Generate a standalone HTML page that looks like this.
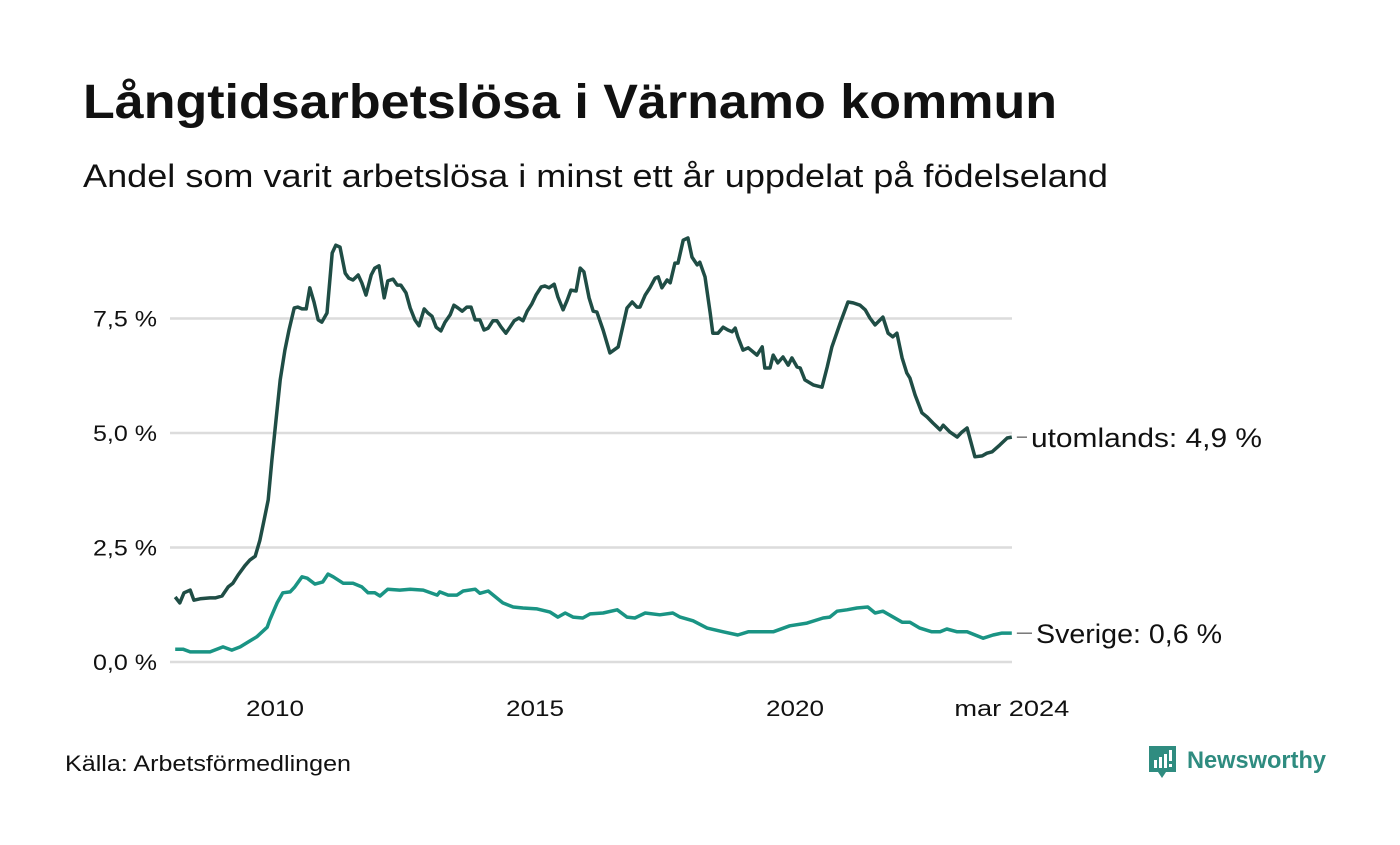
<!DOCTYPE html>
<html><head><meta charset="utf-8"><style>
body{margin:0;width:1400px;height:840px;background:#fff;overflow:hidden;font-family:"Liberation Sans","DejaVu Sans",sans-serif;}
</style></head><body>
<svg width="1400" height="840" xmlns="http://www.w3.org/2000/svg" id="c">
<text x="83" y="118" font-size="48" font-weight="bold" fill="#111" textLength="974" lengthAdjust="spacingAndGlyphs">Långtidsarbetslösa i Värnamo kommun</text>
<text x="83" y="187" font-size="32" fill="#111" textLength="1025" lengthAdjust="spacingAndGlyphs">Andel som varit arbetslösa i minst ett år uppdelat på födelseland</text>
<g id="grid"></g><g id="lines"></g>
<text x="65" y="771" font-size="22" fill="#111" textLength="286" lengthAdjust="spacingAndGlyphs">Källa: Arbetsförmedlingen</text>
<g>
<path d="M1149 746h27v26h-10l-4 6-4-6h-9z" fill="#2f8c80"/>
<rect x="1154" y="760" width="3" height="8" fill="#fff"/><rect x="1159" y="757" width="3" height="11" fill="#fff"/><rect x="1164" y="754" width="3" height="14" fill="#fff"/><rect x="1169" y="750" width="3" height="11" fill="#fff"/><rect x="1169" y="764" width="3" height="3" fill="#fff"/>
<text x="1187" y="768" font-size="24" font-weight="bold" fill="#2f8c80" textLength="139" lengthAdjust="spacingAndGlyphs">Newsworthy</text></g>
</svg>
<script>
const yTicks=[0,2.5,5,7.5];
const yTickLabels=["0,0 %","2,5 %","5,0 %","7,5 %"];
const xTicks=[2010,2015,2020,2024.17];
const xTickLabels=["2010","2015","2020","mar 2024"];
const utYears=[2008.08,2008.17,2008.25,2008.37,2008.44,2008.56,2008.75,2008.85,2008.98,2009.10,2009.19,2009.29,2009.42,2009.52,2009.62,2009.71,2009.79,2009.87,2009.94,2010.02,2010.10,2010.19,2010.27,2010.37,2010.44,2010.52,2010.60,2010.67,2010.75,2010.83,2010.90,2011.00,2011.10,2011.17,2011.25,2011.35,2011.42,2011.50,2011.60,2011.67,2011.75,2011.85,2011.92,2012.00,2012.10,2012.17,2012.27,2012.35,2012.42,2012.52,2012.60,2012.69,2012.77,2012.87,2012.94,2013.02,2013.10,2013.19,2013.27,2013.37,2013.44,2013.52,2013.60,2013.69,2013.77,2013.85,2013.94,2014.02,2014.10,2014.19,2014.27,2014.35,2014.44,2014.52,2014.60,2014.69,2014.77,2014.85,2014.94,2015.02,2015.12,2015.19,2015.27,2015.37,2015.44,2015.54,2015.62,2015.69,2015.79,2015.87,2015.94,2016.04,2016.12,2016.19,2016.31,2016.44,2016.60,2016.77,2016.87,2016.96,2017.02,2017.12,2017.21,2017.31,2017.37,2017.44,2017.54,2017.60,2017.69,2017.75,2017.85,2017.94,2018.02,2018.12,2018.17,2018.27,2018.37,2018.42,2018.52,2018.62,2018.71,2018.79,2018.85,2018.90,2019.00,2019.10,2019.27,2019.37,2019.42,2019.52,2019.58,2019.67,2019.77,2019.87,2019.94,2020.04,2020.10,2020.19,2020.35,2020.52,2020.62,2020.71,2020.87,2021.02,2021.12,2021.25,2021.35,2021.44,2021.54,2021.69,2021.79,2021.88,2021.96,2022.06,2022.15,2022.21,2022.31,2022.44,2022.54,2022.65,2022.79,2022.85,2022.98,2023.12,2023.21,2023.31,2023.46,2023.60,2023.69,2023.79,2023.94,2024.08,2024.17];
const utValues=[1.42,1.29,1.51,1.57,1.35,1.38,1.40,1.40,1.44,1.64,1.72,1.90,2.10,2.23,2.31,2.66,3.10,3.54,4.41,5.28,6.16,6.81,7.25,7.73,7.75,7.71,7.71,8.17,7.86,7.47,7.42,7.62,8.93,9.10,9.06,8.49,8.38,8.34,8.45,8.28,8.01,8.45,8.60,8.65,7.95,8.32,8.36,8.23,8.23,8.06,7.73,7.47,7.34,7.71,7.62,7.55,7.31,7.23,7.42,7.58,7.79,7.73,7.66,7.75,7.75,7.47,7.47,7.25,7.29,7.45,7.45,7.31,7.18,7.31,7.45,7.51,7.45,7.66,7.82,8.01,8.19,8.21,8.17,8.25,7.97,7.69,7.90,8.12,8.10,8.60,8.52,7.95,7.66,7.64,7.25,6.75,6.88,7.73,7.86,7.75,7.75,8.01,8.17,8.38,8.41,8.17,8.34,8.28,8.71,8.71,9.21,9.26,8.84,8.67,8.73,8.41,7.62,7.18,7.18,7.31,7.25,7.21,7.29,7.10,6.81,6.86,6.70,6.88,6.42,6.42,6.70,6.53,6.66,6.48,6.64,6.44,6.42,6.16,6.05,6.00,6.44,6.88,7.40,7.86,7.84,7.79,7.69,7.51,7.36,7.53,7.18,7.10,7.18,6.64,6.31,6.20,5.83,5.44,5.35,5.22,5.07,5.17,5.02,4.91,5.02,5.11,4.48,4.50,4.56,4.59,4.74,4.89,4.91];
const svYears=[2008.08,2008.23,2008.37,2008.75,2009.00,2009.17,2009.33,2009.52,2009.65,2009.85,2009.90,2010.04,2010.15,2010.29,2010.38,2010.52,2010.62,2010.77,2010.92,2011.02,2011.12,2011.31,2011.50,2011.67,2011.79,2011.92,2012.02,2012.17,2012.40,2012.60,2012.85,2013.12,2013.17,2013.33,2013.50,2013.62,2013.85,2013.94,2014.10,2014.38,2014.58,2014.77,2015.04,2015.29,2015.44,2015.58,2015.73,2015.92,2016.06,2016.31,2016.58,2016.77,2016.92,2017.12,2017.40,2017.65,2017.79,2018.04,2018.31,2018.62,2018.90,2019.10,2019.58,2019.90,2020.23,2020.54,2020.67,2020.81,2021.00,2021.19,2021.40,2021.54,2021.69,2022.06,2022.21,2022.40,2022.63,2022.79,2022.92,2023.12,2023.31,2023.62,2023.81,2023.98,2024.17];
const svValues=[0.28,0.28,0.22,0.22,0.33,0.26,0.33,0.46,0.55,0.76,0.92,1.29,1.51,1.53,1.64,1.86,1.83,1.70,1.75,1.92,1.86,1.72,1.72,1.64,1.51,1.51,1.44,1.59,1.57,1.59,1.57,1.46,1.53,1.46,1.46,1.55,1.59,1.50,1.55,1.29,1.20,1.18,1.16,1.09,0.98,1.07,0.98,0.96,1.05,1.07,1.14,0.98,0.96,1.07,1.03,1.07,0.98,0.90,0.74,0.66,0.59,0.66,0.66,0.79,0.85,0.96,0.98,1.11,1.14,1.18,1.20,1.07,1.11,0.87,0.87,0.74,0.66,0.66,0.72,0.66,0.66,0.52,0.59,0.63,0.63];
const X=y=>275+(y-2010)*52;
const Y=v=>662-v*45.8;
const NS="http://www.w3.org/2000/svg";
const grid=document.getElementById('grid'),lines=document.getElementById('lines');
function mk(tag,attrs,parent){const e=document.createElementNS(NS,tag);for(const k in attrs)e.setAttribute(k,attrs[k]);parent.appendChild(e);return e;}
yTicks.forEach((t,i)=>{
 const l=mk('line',{x1:170,x2:1012,y1:Y(t),y2:Y(t),stroke:'#dcdcdc','stroke-width':2.5},grid);
 
 
 const tx=mk('text',{x:157,y:Y(t)+8,'text-anchor':'end','font-size':22,fill:'#111',textLength:64,lengthAdjust:'spacingAndGlyphs'},grid);
 tx.textContent=yTickLabels[i];
 
 
});
xTicks.forEach((t,i)=>{
 const lab=xTickLabels[i];
 const tx=mk('text',{x:X(t),y:716,'text-anchor':'middle','font-size':22,fill:'#111',textLength:lab.length>4?115:58,lengthAdjust:'spacingAndGlyphs'},grid);
 tx.textContent=lab;
 
 
});
function draw(xs,vs,color,name,label,lx,tl){
 const d=xs.map((x,i)=>(i?'L':'M')+X(x).toFixed(1)+' '+Y(vs[i]).toFixed(1)).join(' ');
 const p=mk('path',{d:d,fill:'none',stroke:color,'stroke-width':3.5,'stroke-linejoin':'round'},lines);
 
 
 const last=vs[vs.length-1],ly=Y(last);
 const c=mk('line',{x1:X(xs[xs.length-1])+5,x2:lx-4,y1:ly,y2:ly,stroke:'#333','stroke-width':1},lines);
 
 
 const t=mk('text',{x:lx,y:ly+10,'font-size':27,fill:'#111',textLength:tl,lengthAdjust:'spacingAndGlyphs'},lines);
 t.textContent=label+': '+last.toFixed(1).replace('.',',')+' %';
 
 
}
draw(svYears,svValues,'#1a9484','sverige','Sverige',1036,186);
draw(utYears,utValues,'#1f4d45','utomlands','utomlands',1031,231);
</script>
</body></html>
